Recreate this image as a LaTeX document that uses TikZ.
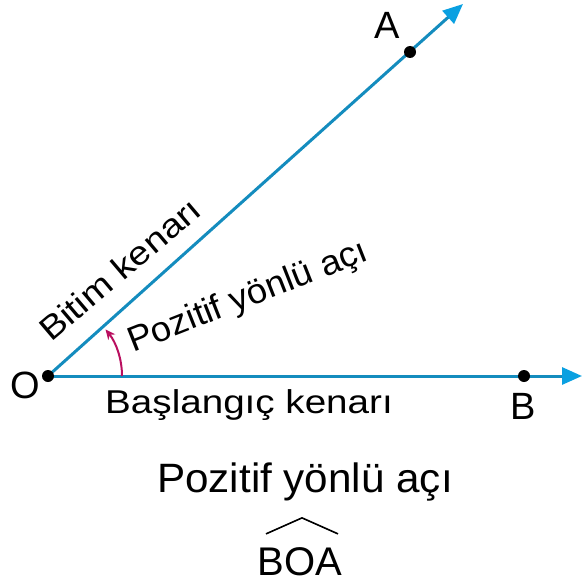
\documentclass[tikz,border=0pt]{standalone}
\usepackage{fontspec}
\setmainfont{Liberation Sans}
\usetikzlibrary{arrows.meta}
\definecolor{raycol}{RGB}{20,140,190}
\definecolor{tipcol}{RGB}{10,160,225}
\definecolor{arccol}{RGB}{185,15,95}
\begin{document}
\begin{tikzpicture}[x=1pt,y=-1pt,
  ray/.style={draw=raycol, line width=3pt, -{Triangle[length=20pt,width=17pt,color=tipcol]}},
  pt/.style={circle, fill=black, inner sep=0pt, minimum size=12pt},
  lbl/.style={font=\fontsize{38}{44}\selectfont, inner sep=0pt},
  txt/.style={font=\fontsize{33}{40}\selectfont, inner sep=0pt},
  ttl/.style={font=\fontsize{41}{48}\selectfont, inner sep=0pt},
  hat/.style={draw=black, line width=1.6pt}]
\useasboundingbox (0,0) rectangle (583,586);
\coordinate (O) at (48,376);
\coordinate (Aend) at (463,4);
\coordinate (Bend) at (582,376);
\draw[ray] (O) -- (Aend);
\draw[ray] (O) -- (Bend);
\node[pt] (a) at (410,52) {};
\node[pt] (b) at (524,376) {};
\node[pt] (o) at (O) {};
\draw[arccol, line width=2pt, -{Stealth[length=10pt,width=9pt]}] (122,376) arc[start angle=0, end angle=-39, radius=74];
\node[lbl] (Ol) at (25,385) {O};
\node[lbl] (Al) at (387,25) {A};
\node[lbl] (Bl) at (523,406) {B};
\node[txt, anchor=base west, xscale=1.17] (bas) at (105,413) {Başlangıç kenarı};
\node[txt, anchor=base west, rotate=40.3, xscale=1.15] (bit) at (51,343) {Bitim kenarı};
\node[txt, font=\fontsize{35}{42}\selectfont, anchor=base west, rotate=21.5, xscale=1.04] (poz) at (133,353) {Pozitif yönlü açı};
\node[ttl, anchor=base, xscale=1.03] (t1) at (305,492) {Pozitif yönlü açı};
\node[ttl, font=\fontsize{40}{46}\selectfont, anchor=base] (boa) at (300,575) {BOA};
\draw[hat] ([shift={(-34,-13)}]boa.north) -- ([shift={(2,-29)}]boa.north) -- ([shift={(38,-13)}]boa.north);
\end{tikzpicture}
\end{document}
